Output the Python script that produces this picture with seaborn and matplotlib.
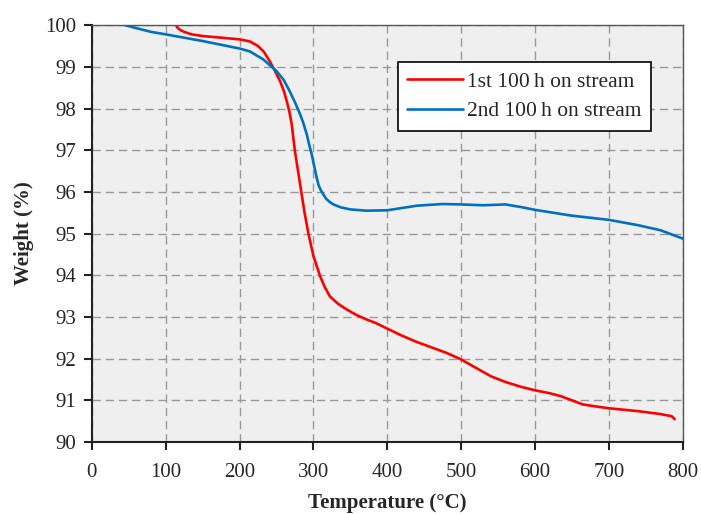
import numpy as np
import pandas as pd
import matplotlib
matplotlib.use("Agg")
import matplotlib.pyplot as plt
import seaborn as sns

series_names = ["1st 100\u2009h on stream", "2nd 100\u2009h on stream"]

t_first = [114, 116, 120, 125, 135, 150, 175, 200, 214, 225, 233, 241, 248, 255, 260, 264,
           267.5, 270.6, 275, 282, 288, 293, 300, 309, 315, 322, 333, 345, 358, 372, 385,
           400, 420, 440, 460, 480, 500, 520, 540, 560, 580, 600, 620, 635, 650, 665, 680,
           700, 740, 770, 785, 789]
w_first = [100.0, 99.94, 99.88, 99.84, 99.78, 99.74, 99.7, 99.66, 99.61, 99.5, 99.36, 99.13,
           98.9, 98.65, 98.42, 98.17, 97.92, 97.62, 96.97, 96.18, 95.5, 95.02, 94.46, 93.98,
           93.73, 93.5, 93.32, 93.18, 93.05, 92.94, 92.85, 92.72, 92.55, 92.4, 92.27,
           92.14, 91.98, 91.78, 91.58, 91.44, 91.33, 91.24, 91.17, 91.1, 91.0, 90.9,
           90.86, 90.81, 90.74, 90.67, 90.62, 90.55]

t_second = [45, 60, 80, 100, 150, 200, 214, 232, 250, 260, 268, 275, 282, 286, 291, 294,
            297.7, 301, 304.4, 307, 310, 313.4, 317, 322, 327, 337, 350, 372, 400, 440,
            475, 500, 530, 560, 580, 600, 650, 700, 740, 770, 800]
w_second = [100.0, 99.93, 99.84, 99.78, 99.62, 99.44, 99.37, 99.18, 98.9, 98.68, 98.41,
            98.15, 97.86, 97.67, 97.38, 97.15, 96.9, 96.62, 96.34, 96.16, 96.04, 95.94,
            95.84, 95.76, 95.7, 95.63, 95.58, 95.55, 95.56, 95.67, 95.71, 95.7, 95.68,
            95.7, 95.64, 95.57, 95.43, 95.33, 95.2, 95.08, 94.88]

x_ticks = [0, 100, 200, 300, 400, 500, 600, 700, 800]
y_ticks = [90, 91, 92, 93, 94, 95, 96, 97, 98, 99, 100]

df = pd.concat([
    pd.DataFrame({"T": t_first, "W": w_first, "series": series_names[0]}),
    pd.DataFrame({"T": t_second, "W": w_second, "series": series_names[1]}),
], ignore_index=True)

sns.set_style("white")
plt.rcParams["font.family"] = ["Liberation Serif", "DejaVu Serif"]

fig = plt.figure(figsize=(7.01, 5.14), dpi=100)
ax = fig.add_axes([0.131, 0.140, 0.843, 0.811])
ax.set_facecolor("#efefef")

sns.lineplot(data=df, x="T", y="W", hue="series", palette=["#ff0000", "#0070c0"],
             sort=False, estimator=None, linewidth=1.9, ax=ax)
for line in ax.get_lines():
    line.set_solid_joinstyle("round")
    line.set_solid_capstyle("round")

ax.set_xlim(0, 800)
ax.set_ylim(90, 100)
ax.set_xticks(x_ticks)
ax.set_yticks(y_ticks)
ax.grid(True, linestyle=(0, (6, 3.5)), color="#999999", linewidth=1.0)
ax.set_axisbelow(True)

for s in ["left", "bottom"]:
    ax.spines[s].set_color("#222222")
    ax.spines[s].set_linewidth(1.5)
for s in ["top", "right"]:
    ax.spines[s].set_color("#555555")
    ax.spines[s].set_linewidth(1.0)
    ax.spines[s].set_visible(True)

ax.tick_params(axis="both", direction="out", length=6, width=1.5, color="#222222",
               labelsize=15, left=True, bottom=True, pad=5)
ax.tick_params(axis="x", pad=9)

ax.set_xlabel("Temperature (\u00b0C)", fontsize=15, fontweight="bold", labelpad=8)
ax.set_ylabel("Weight (%)", fontsize=15, fontweight="bold", labelpad=8)

leg = ax.legend(loc="upper right", bbox_to_anchor=(0.964, 0.938), fontsize=15.5,
                frameon=True, fancybox=False, framealpha=1, edgecolor="black",
                handlelength=2.6, handletextpad=0.15, borderpad=0.45, labelspacing=0.45,
                title=None)
leg.get_frame().set_linewidth(1.2)

fig.savefig("out.png", dpi=100)
